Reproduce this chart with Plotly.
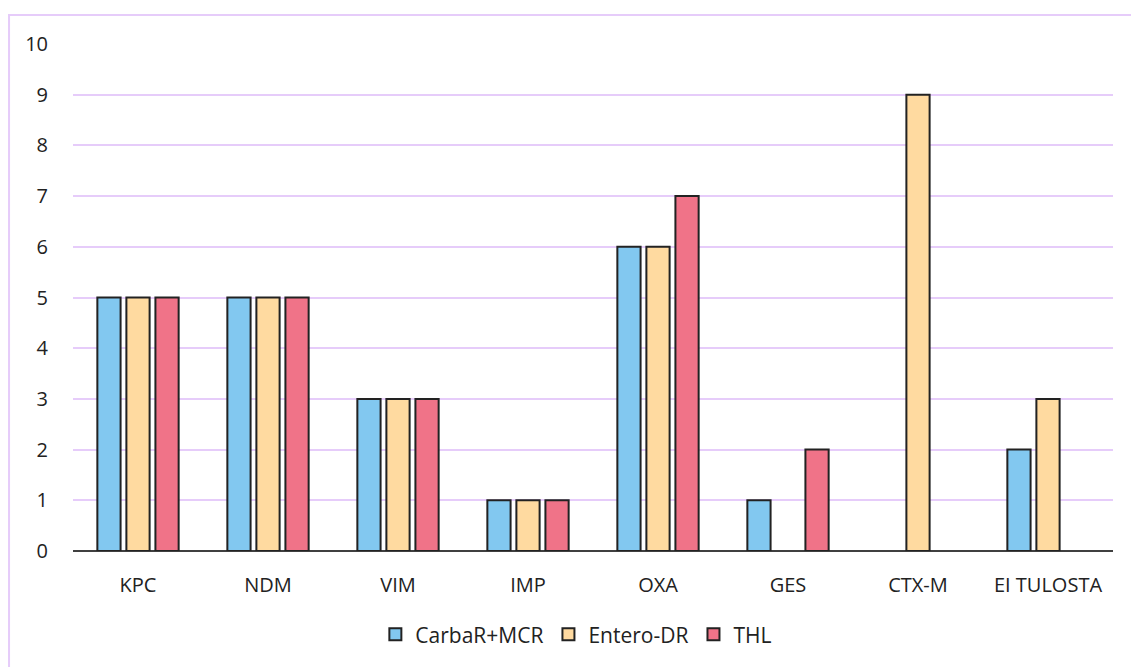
import plotly.graph_objects as go

categories = ["KPC", "NDM", "VIM", "IMP", "OXA", "GES", "CTX-M", "EI TULOSTA"]
carbar_mcr = [5, 5, 3, 1, 6, 1, None, 2]
entero_dr = [5, 5, 3, 1, 6, None, 9, 3]
thl = [5, 5, 3, 1, 7, 2, None, None]
y_ticks = list(range(0, 11))

series = [
    ("CarbaR+MCR", carbar_mcr, "#82C8F0"),
    ("Entero-DR", entero_dr, "#FFDAA0"),
    ("THL", thl, "#F07388"),
]

fig = go.Figure()
for name, vals, color in series:
    fig.add_trace(go.Bar(
        x=categories, y=vals, name=name,
        marker=dict(color=color, line=dict(color="#222222", width=2)),
    ))

font_family = "Open Sans, Noto Sans, sans-serif"
fig.update_layout(
    width=1131, height=667,
    margin=dict(l=73, r=18, t=44, b=114),
    paper_bgcolor="white", plot_bgcolor="white",
    barmode="group", bargap=0.33, bargroupgap=0.2,
    font=dict(family=font_family, size=20, color="#222222"),
    showlegend=True,
    legend=dict(orientation="h", x=0.484, xanchor="center", y=-0.165, yanchor="middle",
                font=dict(size=21, color="#222222"), traceorder="normal",
                itemwidth=30),
    xaxis=dict(showgrid=False, showline=False, zeroline=False,
               ticks="outside", ticklen=16, tickcolor="rgba(0,0,0,0)",
               tickfont=dict(size=20, color="#222222")),
    yaxis=dict(range=[0, 10], tickvals=y_ticks, showgrid=True,
               gridcolor="#E6CCFA", gridwidth=2,
               zeroline=True, zerolinecolor="#404040", zerolinewidth=2,
               showline=False, ticks="outside", ticklen=20,
               tickcolor="rgba(0,0,0,0)",
               tickfont=dict(size=20, color="#222222")),
    shapes=[dict(type="rect", xref="paper", yref="paper",
                 x0=-0.0615, x1=1.03, y0=-0.26, y1=1.057,
                 line=dict(color="#E6CCFA", width=2), layer="below")],
)

fig.write_html("out.html", config={"displayModeBar": False},
               post_script="document.body.style.margin='0';document.body.style.overflow='hidden';")
